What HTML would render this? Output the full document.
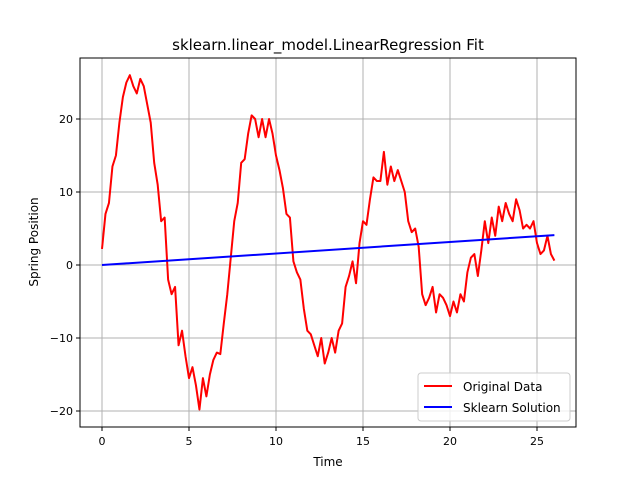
<!DOCTYPE html>
<html><head><meta charset="utf-8"><style>
body{margin:0;background:#fff;}
svg{font-family:"DejaVu Sans","Liberation Sans",sans-serif;}
</style></head><body>
<svg id="chart" width="640" height="480" xmlns="http://www.w3.org/2000/svg">
<rect x="0" y="0" width="640" height="480" fill="#fff"/>
<g id="grid"></g>
<g id="series"></g>
<rect x="80" y="58" width="496" height="369" fill="none" stroke="#000" stroke-width="1"/>
<g id="ticks"></g>
<text x="328" y="50" font-size="15" text-anchor="middle">sklearn.linear_model.LinearRegression Fit</text>
<text x="328" y="466" font-size="12" text-anchor="middle">Time</text>
<text x="38" y="242" font-size="12" text-anchor="middle" transform="rotate(-90 38 242)">Spring Position</text>
<g>
<rect x="418" y="373" width="152" height="48" rx="3" fill="#fff" fill-opacity="0.8" stroke="#ccc"/>
<line x1="424" y1="386" x2="452" y2="386" stroke="#f00" stroke-width="2"/>
<text x="463" y="391" font-size="12">Original Data</text>
<line x1="424" y1="407" x2="452" y2="407" stroke="#00f" stroke-width="2"/>
<text x="463" y="412" font-size="12">Sklearn Solution</text>
</g>
</svg>
<script>
const tValues=[0,0.2,0.4,0.6,0.8,1.0,1.2,1.4,1.6,1.8,2.0,2.2,2.4,2.6,2.8,3.0,3.2,3.4,3.6,3.8,4.0,4.2,4.4,4.6,4.8,5.0,5.2,5.4,5.6,5.8,6.0,6.2,6.4,6.6,6.8,7.0,7.2,7.4,7.6,7.8,8.0,8.2,8.4,8.6,8.8,9.0,9.2,9.4,9.6,9.8,10.0,10.2,10.4,10.6,10.8,11.0,11.2,11.4,11.6,11.8,12.0,12.2,12.4,12.6,12.8,13.0,13.2,13.4,13.6,13.8,14.0,14.2,14.4,14.6,14.8,15.0,15.2,15.4,15.6,15.8,16.0,16.2,16.4,16.6,16.8,17.0,17.2,17.4,17.6,17.8,18.0,18.2,18.4,18.6,18.8,19.0,19.2,19.4,19.6,19.8,20.0,20.2,20.4,20.6,20.8,21.0,21.2,21.4,21.6,21.8,22.0,22.2,22.4,22.6,22.8,23.0,23.2,23.4,23.6,23.8,24.0,24.2,24.4,24.6,24.8,25.0,25.2,25.4,25.6,25.8,26.0];
const positionValues=[2.2,7,8.5,13.5,15,19.5,23,25,26,24.5,23.5,25.5,24.5,22,19.5,14,11,6,6.5,-2,-4,-3,-11,-9,-12.5,-15.5,-14,-16.5,-19.8,-15.5,-18,-15,-13,-12,-12.2,-8,-4,1,6,8.5,14,14.5,18,20.5,20,17.5,20,17.5,20,18,15,13,10.5,7,6.5,0.5,-1,-2,-6,-9,-9.5,-11,-12.5,-10,-13.5,-12,-10,-12,-9,-8,-3,-1.5,0.5,-2.5,3,6,5.5,9,12,11.5,11.5,15.5,11,13.5,11.5,13,11.5,10,6,4.5,5,2.5,-4,-5.5,-4.5,-3,-6.5,-4,-4.5,-5.5,-7,-5,-6.5,-4,-5,-1,1,1.5,-1.5,2,6,3,6.5,4,8,6,8.5,7,6,9,7.5,5,5.5,5,6,3,1.5,2,4,1.5,0.6];
const fitT=[0,26];
const fitValues=[0,4.1];
const xTicks=[0,5,10,15,20,25];
const yTicks=[-20,-10,0,10,20];
const yTickLabels=["\u221220","\u221210","0","10","20"];

const NS="http://www.w3.org/2000/svg";
const xs=t=>102+t*17.4;
const ys=v=>265-v*7.3;
const grid=document.getElementById('grid'),ticks=document.getElementById('ticks'),series=document.getElementById('series');
function mk(tag,attrs,parent){const e=document.createElementNS(NS,tag);for(const k in attrs)e.setAttribute(k,attrs[k]);parent.appendChild(e);return e;}
xTicks.forEach(t=>{
  const g=mk('line',{x1:xs(t),x2:xs(t),y1:58,y2:427,stroke:'#b0b0b0','stroke-width':1},grid);
  
  
  mk('line',{x1:xs(t),x2:xs(t),y1:427,y2:431,stroke:'#000'},ticks);
  const l=mk('text',{x:xs(t),y:445,'font-size':11,'text-anchor':'middle'},ticks);
  l.textContent=String(t);
  
  
});
yTicks.forEach((v,i)=>{
  const g=mk('line',{x1:80,x2:576,y1:ys(v),y2:ys(v),stroke:'#b0b0b0','stroke-width':1},grid);
  
  
  mk('line',{x1:76,x2:80,y1:ys(v),y2:ys(v),stroke:'#000'},ticks);
  const l=mk('text',{x:73,y:ys(v)+4,'font-size':11,'text-anchor':'end'},ticks);
  l.textContent=yTickLabels[i];
  
  
});
const p1=mk('polyline',{points:tValues.map((t,i)=>xs(t)+','+ys(positionValues[i])).join(' '),fill:'none',stroke:'#f00','stroke-width':2,'stroke-linejoin':'round'},series);


const p2=mk('polyline',{points:fitT.map((t,i)=>xs(t)+','+ys(fitValues[i])).join(' '),fill:'none',stroke:'#00f','stroke-width':2},series);


</script>
</body></html>
